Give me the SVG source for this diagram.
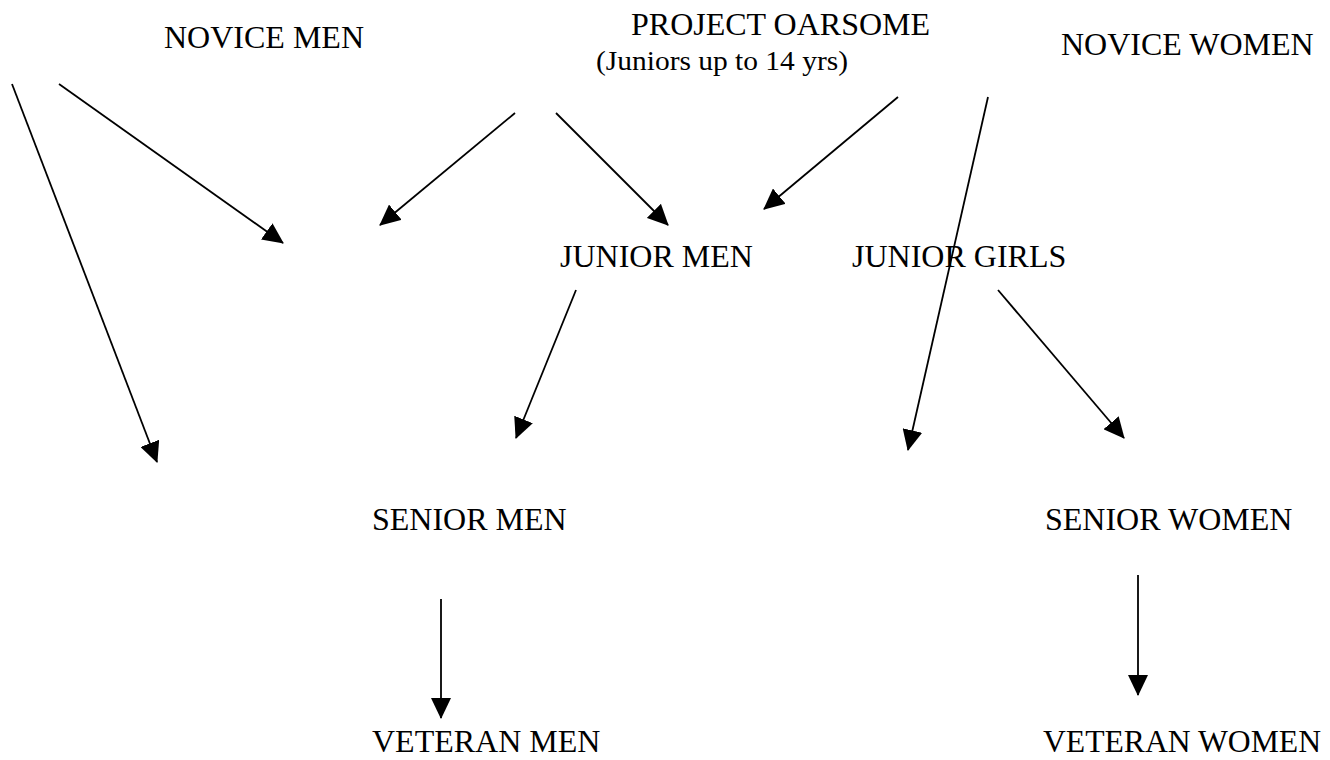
<svg xmlns="http://www.w3.org/2000/svg" width="1330" height="760" viewBox="0 0 1330 760">
<style>
text{font-family:"Liberation Serif","Times New Roman","DejaVu Serif",serif;font-size:32px;fill:#000}
.sub{font-size:27px}
.c line{stroke:#000;stroke-width:1.8;fill:none;marker-end:url(#ah)}
</style>
<defs>
<marker id="ah" markerUnits="userSpaceOnUse" markerWidth="21" markerHeight="20" viewBox="0 0 21 20" refX="20" refY="10" orient="auto">
<path d="M0,0 L21,10 L0,20 z" fill="#000"/>
</marker>
</defs>
<rect width="1330" height="760" fill="#fff"/>
<g font-family="Liberation Serif, Times New Roman, serif">
<g id="novice-men"><text x="164" y="48">NOVICE MEN</text></g>
<g id="project-oarsome"><text x="631" y="35">PROJECT OARSOME</text><text class="sub" x="596" y="70" textLength="252" lengthAdjust="spacingAndGlyphs">(Juniors up to 14 yrs)</text></g>
<g id="novice-women"><text x="1061" y="55">NOVICE WOMEN</text></g>
<g id="junior-men"><text x="560" y="267">JUNIOR MEN</text></g>
<g id="junior-girls"><text x="852" y="267">JUNIOR GIRLS</text></g>
<g id="senior-men"><text x="372" y="530">SENIOR MEN</text></g>
<g id="senior-women"><text x="1045" y="530">SENIOR WOMEN</text></g>
<g id="veteran-men"><text x="372" y="752">VETERAN MEN</text></g>
<g id="veteran-women"><text x="1043" y="752" textLength="278" lengthAdjust="spacingAndGlyphs">VETERAN WOMEN</text></g>
</g>
<g id="connectors" class="c">
<line x1="12" y1="84" x2="157" y2="462"/>
<line x1="59" y1="84" x2="283" y2="243"/>
<line x1="515" y1="113" x2="380" y2="225"/>
<line x1="556" y1="113" x2="668" y2="225"/>
<line x1="898" y1="97" x2="764" y2="209"/>
<line x1="988" y1="97" x2="908" y2="450"/>
<line x1="576" y1="290" x2="516" y2="438"/>
<line x1="998" y1="290" x2="1124" y2="438"/>
<line x1="441" y1="599" x2="441" y2="718"/>
<line x1="1138" y1="575" x2="1138" y2="695"/>
</g>
</svg>
